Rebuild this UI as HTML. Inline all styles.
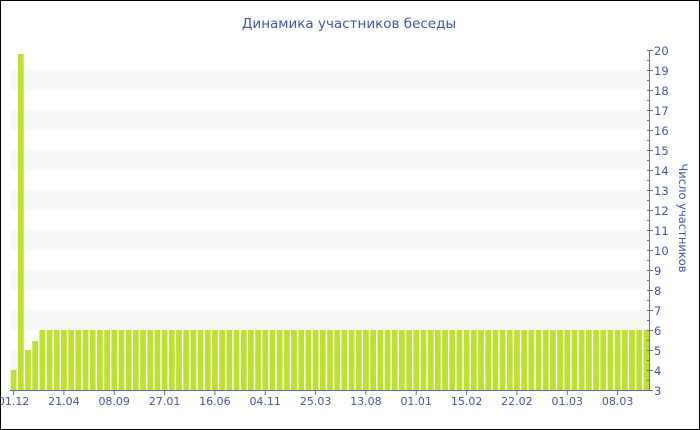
<!DOCTYPE html>
<html><head><meta charset="utf-8">
<style>
html,body{margin:0;padding:0;background:#fff;}
svg{display:block;}
text{font-family:"DejaVu Sans","Liberation Sans",sans-serif;fill:#3e58a8;}
</style></head>
<body>
<svg width="700" height="430" viewBox="0 0 700 430" xmlns="http://www.w3.org/2000/svg">
<rect x="0.5" y="0.5" width="699" height="429" fill="#fff" stroke="#000" stroke-width="1"/>
<g fill="#f7f7f7">
<rect x="10" y="70" width="640" height="20"/>
<rect x="10" y="110" width="640" height="20"/>
<rect x="10" y="150" width="640" height="20"/>
<rect x="10" y="190" width="640" height="20"/>
<rect x="10" y="230" width="640" height="20"/>
<rect x="10" y="270" width="640" height="20"/>
<rect x="10" y="310" width="640" height="20"/>
<rect x="10" y="350" width="640" height="20"/>
</g>
<text x="349" y="28" font-size="13.5" text-anchor="middle">Динамика участников беседы</text>
<g fill="#bde032">
<rect x="10.7" y="370" width="5.8" height="20"/>
<rect x="17.89" y="54" width="5.8" height="336"/>
<rect x="25.08" y="350" width="5.8" height="40"/>
<rect x="32.27" y="341" width="5.8" height="49"/>
</g>
<line x1="39.46" y1="360" x2="649.5" y2="360" stroke="#bde032" stroke-width="60" stroke-dasharray="5.8 1.39101"/>
<g stroke="#5a6eb4" stroke-width="1" fill="none">
<line x1="10" y1="390.5" x2="650" y2="390.5"/>
<line x1="649.5" y1="50" x2="649.5" y2="391"/>
<path d="M13.6 390V395M63.9 390V395M114.2 390V395M164.6 390V395M214.9 390V395M265.2 390V395M315.6 390V395M365.9 390V395M416.2 390V395M466.6 390V395M516.9 390V395M567.3 390V395M617.6 390V395"/>
<line x1="647" y1="50.5" x2="653" y2="50.5" stroke-dasharray="6 0"/>
<path d="M647 50.5H653M647 70.5H653M647 90.5H653M647 110.5H653M647 130.5H653M647 150.5H653M647 170.5H653M647 190.5H653M647 210.5H653M647 230.5H653M647 250.5H653M647 270.5H653M647 290.5H653M647 310.5H653M647 330.5H653M647 350.5H653M647 370.5H653M647 390.5H653"/>
<path d="M647 60.5H650M647 80.5H650M647 100.5H650M647 120.5H650M647 140.5H650M647 160.5H650M647 180.5H650M647 200.5H650M647 220.5H650M647 240.5H650M647 260.5H650M647 280.5H650M647 300.5H650M647 320.5H650M647 340.5H650M647 360.5H650M647 380.5H650"/>
</g>
<g font-size="11" text-anchor="middle">
<text x="13.6" y="405">01.12</text>
<text x="63.9" y="405">21.04</text>
<text x="114.2" y="405">08.09</text>
<text x="164.6" y="405">27.01</text>
<text x="214.9" y="405">16.06</text>
<text x="265.2" y="405">04.11</text>
<text x="315.6" y="405">25.03</text>
<text x="365.9" y="405">13.08</text>
<text x="416.2" y="405">01.01</text>
<text x="466.6" y="405">15.02</text>
<text x="516.9" y="405">22.02</text>
<text x="567.3" y="405">01.03</text>
<text x="617.6" y="405">08.03</text>
</g>
<g font-size="11.5">
<text x="654" y="55">20</text>
<text x="654" y="75">19</text>
<text x="654" y="95">18</text>
<text x="654" y="115">17</text>
<text x="654" y="135">16</text>
<text x="654" y="155">15</text>
<text x="654" y="175">14</text>
<text x="654" y="195">13</text>
<text x="654" y="215">12</text>
<text x="654" y="235">11</text>
<text x="654" y="255">10</text>
<text x="654" y="275">9</text>
<text x="654" y="295">8</text>
<text x="654" y="315">7</text>
<text x="654" y="335">6</text>
<text x="654" y="355">5</text>
<text x="654" y="375">4</text>
<text x="654" y="395">3</text>
</g>
<text x="0" y="0" font-size="11.5" text-anchor="middle" transform="translate(679,218) rotate(90)">Число участников</text>
</svg>
</body></html>
